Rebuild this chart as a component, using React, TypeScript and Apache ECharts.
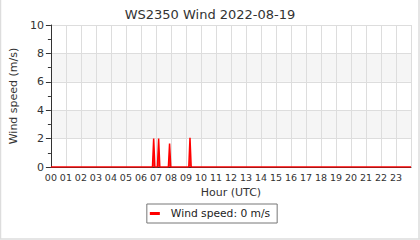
import React, { useEffect, useRef } from "react";
import * as echarts from "echarts";

const title = "WS2350 Wind 2022-08-19";
const seriesName = "Wind speed: 0 m/s";
const hourLabels = ["00","01","02","03","04","05","06","07","08","09","10","11","12","13","14","15","16","17","18","19","20","21","22","23"];
// [hour (decimal), wind speed m/s]
const windTimes = [0, 6.77, 6.85, 6.93, 7.1, 7.18, 7.26, 7.83, 7.91, 7.99, 9.19, 9.27, 9.35, 24];
const windSpeeds = [0, 0, 2.0, 0, 0, 2.0, 0, 0, 1.65, 0, 0, 2.05, 0, 0];

export default function App() {
  const ref = useRef<HTMLDivElement>(null);
  useEffect(() => {
    const chart = echarts.init(ref.current!, null, { renderer: "svg" });
    const data = windTimes.map((t, i) => [t, windSpeeds[i]]);
    chart.setOption({
      animation: false,
      textStyle: { fontFamily: "DejaVu Sans" },
      title: {
        text: title,
        left: "center",
        top: 3,
        textStyle: { fontSize: 13, fontWeight: "normal", color: "#333", fontFamily: "DejaVu Sans" },
      },
      grid: { left: 50, right: 9, top: 25, bottom: 73, containLabel: false },
      legend: {
        data: [seriesName],
        top: 204,
        left: "center",
        icon: "rect",
        itemWidth: 10,
        itemHeight: 3,
        itemGap: 0,
        borderColor: "#777",
        borderWidth: 1,
        borderRadius: 0,
        padding: [4, 7, 4, 3],
        textStyle: { fontSize: 10.7, color: "#222", fontFamily: "DejaVu Sans", padding: [0, 0, 0, 6] },
      },
      xAxis: {
        type: "value",
        min: 0,
        max: 24,
        interval: 1,
        name: "Hour (UTC)",
        nameLocation: "middle",
        nameGap: 20,
        nameTextStyle: { fontSize: 11, color: "#333" },
        axisLine: { show: true, onZero: false, lineStyle: { color: "#333", width: 1 } },
        axisTick: { show: false },
        axisLabel: {
          fontSize: 9.5,
          color: "#333",
          margin: 5,
          formatter: (v: number) => (v < hourLabels.length ? hourLabels[v] : ""),
        },
        splitLine: { show: true, lineStyle: { color: "#ddd", width: 1 } },
      },
      yAxis: {
        type: "value",
        min: 0,
        max: 10,
        interval: 2,
        name: "Wind speed (m/s)",
        nameLocation: "middle",
        nameGap: 30,
        nameTextStyle: { fontSize: 11, color: "#333" },
        axisLine: { show: true, lineStyle: { color: "#333", width: 1 } },
        axisTick: { show: true, length: 5, lineStyle: { color: "#333" } },
        minorTick: { show: true, splitNumber: 2, length: 3, lineStyle: { color: "#333" } },
        axisLabel: { fontSize: 11, color: "#333", margin: 7 },
        splitLine: { show: true, lineStyle: { color: "#ddd", width: 1 } },
        splitArea: { show: true, areaStyle: { color: ["#ffffff", "#f5f5f5"] } },
      },
      series: [
        {
          name: seriesName,
          type: "line",
          data,
          symbol: "none",
          lineStyle: { color: "#ff0000", width: 1.5 },
          itemStyle: { color: "#ff0000" },
          areaStyle: { color: "#ff0000", opacity: 0.85 },
        },
      ],
      graphic: [
        { type: "line", shape: { x1: 0.5, y1: 0, x2: 0.5, y2: 239 }, style: { stroke: "#ddd", lineWidth: 1.5 } },
        { type: "line", shape: { x1: 419, y1: 0, x2: 419, y2: 239 }, style: { stroke: "#ddd", lineWidth: 1.5 } },
        { type: "line", shape: { x1: 0, y1: 239, x2: 420, y2: 239 }, style: { stroke: "#ddd", lineWidth: 1.5 } },
      ],
    });
    return () => chart.dispose();
  }, []);
  return <div ref={ref} style={{ position: "fixed", left: 0, top: 0, width: 420, height: 240, background: "#fff" }} />;
}
